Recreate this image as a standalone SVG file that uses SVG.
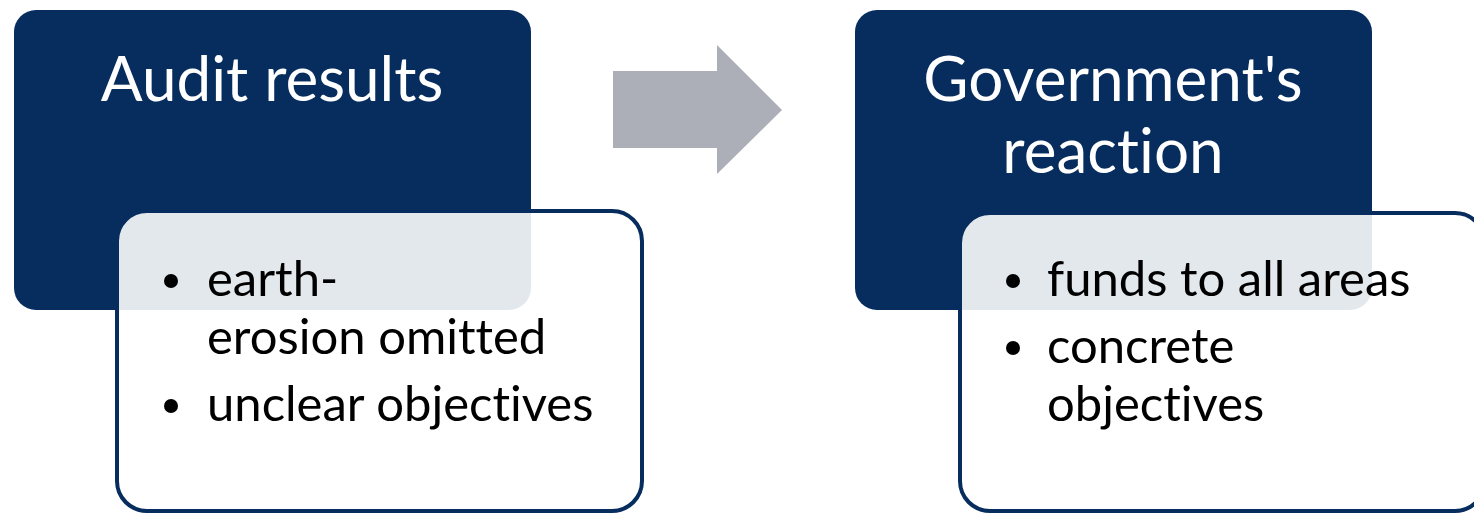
<svg xmlns="http://www.w3.org/2000/svg" width="1474" height="513" viewBox="0 0 1474 513">
<style>
.dark{fill:#062d5e}
.card{fill:#ffffff;fill-opacity:0.89;stroke:#062d5e;stroke-width:4}
.title{font-family:Lato,"Open Sans",sans-serif;font-size:62px;fill:#ffffff;text-anchor:middle;font-variant-ligatures:none}
.item{font-family:Lato,"Open Sans",sans-serif;font-size:49px;fill:#000000;font-variant-ligatures:none}
.dot{fill:#000000}
</style>
<rect width="1474" height="513" fill="#ffffff"/>
<g id="audit-results">
<rect class="dark" x="14" y="10" width="517" height="300" rx="22"/>
<text class="title" x="272" y="101">Audit results</text>
</g>
<g id="audit-details">
<rect class="card" x="117" y="211" width="525" height="300" rx="30"/>
<circle class="dot" cx="171" cy="281" r="7"/>
<text class="item" x="207" y="296">earth-</text>
<text class="item" x="207" y="354">erosion omitted</text>
<circle class="dot" cx="171" cy="406" r="7"/>
<text class="item" x="207" y="421">unclear objectives</text>
</g>
<g id="government-reaction">
<rect class="dark" x="855" y="10" width="517" height="300" rx="22"/>
<text class="title" x="1113" y="101">Government's</text>
<text class="title" x="1113" y="173">reaction</text>
</g>
<g id="reaction-details">
<rect class="card" x="960" y="213" width="525" height="298" rx="30"/>
<circle class="dot" cx="1013" cy="281" r="7"/>
<text class="item" x="1047" y="296">funds to all areas</text>
<circle class="dot" cx="1013" cy="348" r="7"/>
<text class="item" x="1047" y="363">concrete</text>
<text class="item" x="1047" y="421">objectives</text>
</g>
<g id="connectors">
<polygon points="613,71 717,71 717,45 782,110 717,174 717,148 613,148" fill="#acaeb8"/>
</g>
</svg>
